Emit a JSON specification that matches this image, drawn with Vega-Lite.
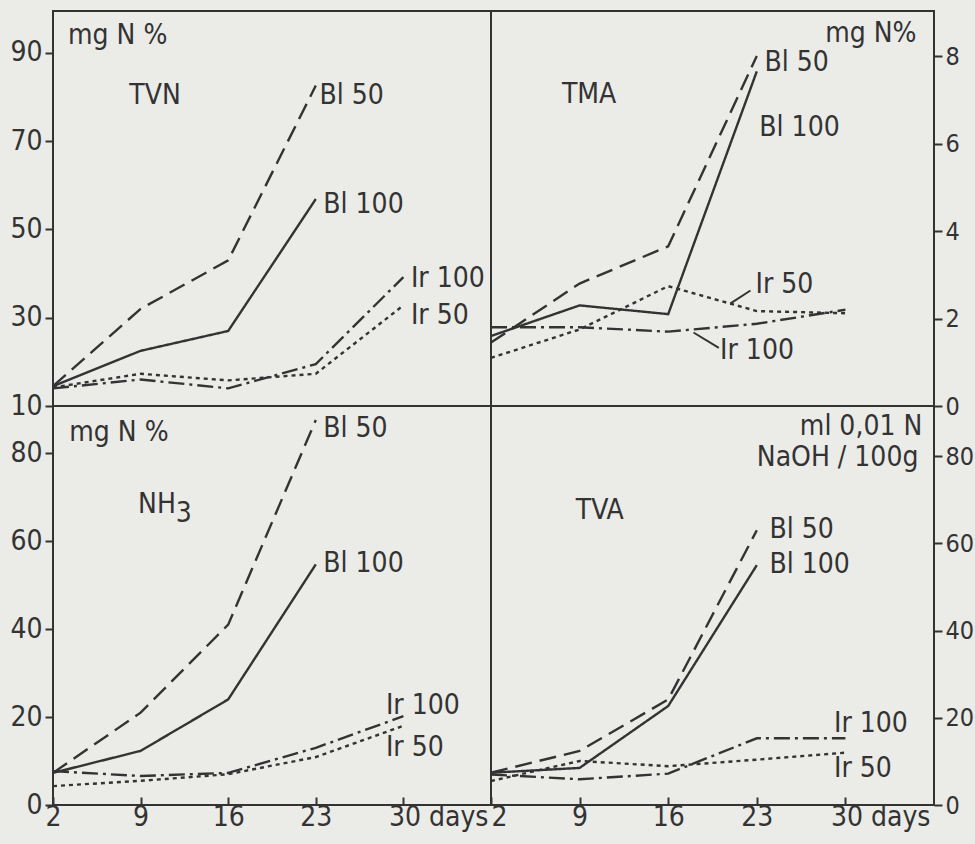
{
  "$schema": "https://vega.github.io/schema/vega-lite/v6.json",
  "background": "#ebebe8",
  "padding": {"left": 8, "top": 10, "right": 2, "bottom": 14},
  "config": {
    "font": "DejaVu Sans Condensed, Liberation Sans Narrow, DejaVu Sans, sans-serif",
    "view": {"stroke": "#333333", "strokeWidth": 2},
    "axis": {"grid": false, "domain": false, "tickColor": "#333333", "tickWidth": 2, "tickSize": 8, "labelFontSize": 25, "labelColor": "#333333", "labelPadding": 3, "title": null},
    "text": {"fontSize": 28, "color": "#333333", "align": "left", "baseline": "middle"}
  },
  "datasets": {
    "lines": [
      {"panel": "TVN", "series": "Bl 50", "day": 2, "value": 14.5},
      {"panel": "TVN", "series": "Bl 50", "day": 9, "value": 32},
      {"panel": "TVN", "series": "Bl 50", "day": 16, "value": 43},
      {"panel": "TVN", "series": "Bl 50", "day": 23, "value": 82.6},
      {"panel": "TVN", "series": "Bl 100", "day": 2, "value": 14.5},
      {"panel": "TVN", "series": "Bl 100", "day": 9, "value": 22.5},
      {"panel": "TVN", "series": "Bl 100", "day": 16, "value": 27},
      {"panel": "TVN", "series": "Bl 100", "day": 23, "value": 56.9},
      {"panel": "TVN", "series": "Ir 100", "day": 2, "value": 14},
      {"panel": "TVN", "series": "Ir 100", "day": 9, "value": 16},
      {"panel": "TVN", "series": "Ir 100", "day": 16, "value": 14},
      {"panel": "TVN", "series": "Ir 100", "day": 23, "value": 19.5},
      {"panel": "TVN", "series": "Ir 100", "day": 30, "value": 39.2},
      {"panel": "TVN", "series": "Ir 50", "day": 2, "value": 14.2},
      {"panel": "TVN", "series": "Ir 50", "day": 9, "value": 17.3},
      {"panel": "TVN", "series": "Ir 50", "day": 16, "value": 15.8},
      {"panel": "TVN", "series": "Ir 50", "day": 23, "value": 17.3},
      {"panel": "TVN", "series": "Ir 50", "day": 30, "value": 32.8},
      {"panel": "TMA", "series": "Bl 50", "day": 2, "value": 1.45},
      {"panel": "TMA", "series": "Bl 50", "day": 9, "value": 2.8},
      {"panel": "TMA", "series": "Bl 50", "day": 16, "value": 3.65},
      {"panel": "TMA", "series": "Bl 50", "day": 23, "value": 8.0},
      {"panel": "TMA", "series": "Bl 100", "day": 2, "value": 1.6},
      {"panel": "TMA", "series": "Bl 100", "day": 9, "value": 2.3},
      {"panel": "TMA", "series": "Bl 100", "day": 16, "value": 2.1},
      {"panel": "TMA", "series": "Bl 100", "day": 23, "value": 7.65},
      {"panel": "TMA", "series": "Ir 100", "day": 2, "value": 1.8},
      {"panel": "TMA", "series": "Ir 100", "day": 9, "value": 1.8},
      {"panel": "TMA", "series": "Ir 100", "day": 16, "value": 1.7},
      {"panel": "TMA", "series": "Ir 100", "day": 23, "value": 1.88},
      {"panel": "TMA", "series": "Ir 100", "day": 30, "value": 2.2},
      {"panel": "TMA", "series": "Ir 50", "day": 2, "value": 1.1},
      {"panel": "TMA", "series": "Ir 50", "day": 9, "value": 1.75},
      {"panel": "TMA", "series": "Ir 50", "day": 16, "value": 2.74},
      {"panel": "TMA", "series": "Ir 50", "day": 23, "value": 2.17},
      {"panel": "TMA", "series": "Ir 50", "day": 30, "value": 2.12},
      {"panel": "NH3", "series": "Bl 50", "day": 2, "value": 7.3},
      {"panel": "NH3", "series": "Bl 50", "day": 9, "value": 21},
      {"panel": "NH3", "series": "Bl 50", "day": 16, "value": 41},
      {"panel": "NH3", "series": "Bl 50", "day": 23, "value": 87.5},
      {"panel": "NH3", "series": "Bl 100", "day": 2, "value": 7.3},
      {"panel": "NH3", "series": "Bl 100", "day": 9, "value": 12.3},
      {"panel": "NH3", "series": "Bl 100", "day": 16, "value": 24},
      {"panel": "NH3", "series": "Bl 100", "day": 23, "value": 54.7},
      {"panel": "NH3", "series": "Ir 100", "day": 2, "value": 7.7},
      {"panel": "NH3", "series": "Ir 100", "day": 9, "value": 6.6},
      {"panel": "NH3", "series": "Ir 100", "day": 16, "value": 7.3},
      {"panel": "NH3", "series": "Ir 100", "day": 23, "value": 13},
      {"panel": "NH3", "series": "Ir 100", "day": 30, "value": 20.2},
      {"panel": "NH3", "series": "Ir 50", "day": 2, "value": 4.3},
      {"panel": "NH3", "series": "Ir 50", "day": 9, "value": 5.5},
      {"panel": "NH3", "series": "Ir 50", "day": 16, "value": 7},
      {"panel": "NH3", "series": "Ir 50", "day": 23, "value": 10.9},
      {"panel": "NH3", "series": "Ir 50", "day": 30, "value": 18},
      {"panel": "TVA", "series": "Bl 50", "day": 2, "value": 7.4},
      {"panel": "TVA", "series": "Bl 50", "day": 9, "value": 12.4},
      {"panel": "TVA", "series": "Bl 50", "day": 16, "value": 24.2},
      {"panel": "TVA", "series": "Bl 50", "day": 23, "value": 63},
      {"panel": "TVA", "series": "Bl 100", "day": 2, "value": 7.4},
      {"panel": "TVA", "series": "Bl 100", "day": 9, "value": 8.5},
      {"panel": "TVA", "series": "Bl 100", "day": 16, "value": 22.7},
      {"panel": "TVA", "series": "Bl 100", "day": 23, "value": 55},
      {"panel": "TVA", "series": "Ir 100", "day": 2, "value": 7},
      {"panel": "TVA", "series": "Ir 100", "day": 9, "value": 5.9},
      {"panel": "TVA", "series": "Ir 100", "day": 16, "value": 7.2},
      {"panel": "TVA", "series": "Ir 100", "day": 23, "value": 15.3},
      {"panel": "TVA", "series": "Ir 100", "day": 30, "value": 15.3},
      {"panel": "TVA", "series": "Ir 50", "day": 2, "value": 5.5},
      {"panel": "TVA", "series": "Ir 50", "day": 9, "value": 10.1},
      {"panel": "TVA", "series": "Ir 50", "day": 16, "value": 8.9},
      {"panel": "TVA", "series": "Ir 50", "day": 23, "value": 10.4},
      {"panel": "TVA", "series": "Ir 50", "day": 30, "value": 12}
    ],
    "labels": [
      {"panel": "TVN", "label": "mg N %", "day": 3.2, "value": 93.9},
      {"panel": "TVN", "label": "TVN", "day": 8.1, "value": 80.3},
      {"panel": "TVN", "label": "Bl 50", "day": 23.3, "value": 80.3},
      {"panel": "TVN", "label": "Bl 100", "day": 23.6, "value": 55.6},
      {"panel": "TVN", "label": "Ir 100", "day": 30.6, "value": 38.8},
      {"panel": "TVN", "label": "Ir 50", "day": 30.6, "value": 30.4},
      {"panel": "TMA", "label": "mg N%", "day": 28.4, "value": 8.5},
      {"panel": "TMA", "label": "TMA", "day": 7.6, "value": 7.1},
      {"panel": "TMA", "label": "Bl 50", "day": 23.6, "value": 7.85},
      {"panel": "TMA", "label": "Bl 100", "day": 23.2, "value": 6.35},
      {"panel": "TMA", "label": "Ir 50", "day": 22.9, "value": 2.76},
      {"panel": "TMA", "label": "Ir 100", "day": 20.1, "value": 1.26},
      {"panel": "NH3", "label": "mg N %", "day": 3.3, "value": 84.5},
      {"panel": "NH3", "label": "NH", "day": 8.8, "value": 68.3},
      {"panel": "NH3", "label": "3", "day": 11.8, "value": 66.2},
      {"panel": "NH3", "label": "Bl 50", "day": 23.6, "value": 85.5},
      {"panel": "NH3", "label": "Bl 100", "day": 23.6, "value": 54.8},
      {"panel": "NH3", "label": "Ir 100", "day": 28.6, "value": 22.5},
      {"panel": "NH3", "label": "Ir 50", "day": 28.6, "value": 13},
      {"panel": "TVA", "label": "ml 0,01 N", "day": 26.4, "value": 86.6},
      {"panel": "TVA", "label": "NaOH / 100g", "day": 23.0, "value": 79.6},
      {"panel": "TVA", "label": "TVA", "day": 8.7, "value": 67.5},
      {"panel": "TVA", "label": "Bl 50", "day": 24, "value": 63},
      {"panel": "TVA", "label": "Bl 100", "day": 24, "value": 55},
      {"panel": "TVA", "label": "Ir 100", "day": 29.1, "value": 18.6},
      {"panel": "TVA", "label": "Ir 50", "day": 29.1, "value": 8.2}
    ],
    "leaders": [
      {"panel": "TMA", "day": 20.9, "value": 2.34, "day2": 22.5, "value2": 2.64},
      {"panel": "TMA", "day": 18.0, "value": 1.68, "day2": 20.0, "value2": 1.33}
    ]
  },
  "columns": 2,
  "spacing": 0,
  "bounds": "flush",
  "resolve": {"scale": {"x": "independent", "y": "independent"}},
  "concat": [
    {
      "width": 438, "height": 395,
      "layer": [
        {
          "data": {"name": "lines"},
          "transform": [{"filter": "datum.panel == 'TVN'"}],
          "mark": {"type": "line", "strokeWidth": 2.4, "color": "#333333"},
          "encoding": {
            "x": {"field": "day", "type": "quantitative", "scale": {"domain": [2, 37], "nice": false, "zero": false}, "axis": null},
            "y": {"field": "value", "type": "quantitative", "scale": {"domain": [10, 99.5], "nice": false, "zero": false}, "axis": {"orient": "left", "values": [10, 30, 50, 70, 90], "labelFontSize": 28}},
            "strokeDash": {"field": "series", "type": "nominal", "scale": {"domain": ["Bl 50", "Bl 100", "Ir 100", "Ir 50"], "range": [[17, 8], [1, 0], [16, 5, 3, 5], [4, 4]]}, "legend": null}
          }
        },
        {
          "data": {"name": "labels"},
          "transform": [{"filter": "datum.panel == 'TVN'"}],
          "mark": {"type": "text"},
          "encoding": {
            "x": {"field": "day", "type": "quantitative"},
            "y": {"field": "value", "type": "quantitative"},
            "text": {"field": "label"}
          }
        }
      ]
    },
    {
      "width": 443, "height": 395,
      "layer": [
        {
          "data": {"name": "lines"},
          "transform": [{"filter": "datum.panel == 'TMA'"}],
          "mark": {"type": "line", "strokeWidth": 2.4, "color": "#333333"},
          "encoding": {
            "x": {"field": "day", "type": "quantitative", "scale": {"domain": [2, 37], "nice": false, "zero": false}, "axis": null},
            "y": {"field": "value", "type": "quantitative", "scale": {"domain": [0, 9.03], "nice": false, "zero": false}, "axis": {"orient": "right", "values": [0, 2, 4, 6, 8]}},
            "strokeDash": {"field": "series", "type": "nominal", "scale": {"domain": ["Bl 50", "Bl 100", "Ir 100", "Ir 50"], "range": [[17, 8], [1, 0], [16, 5, 3, 5], [4, 4]]}, "legend": null}
          }
        },
        {
          "data": {"name": "leaders"},
          "transform": [{"filter": "datum.panel == 'TMA'"}],
          "mark": {"type": "rule", "strokeWidth": 2, "color": "#333333"},
          "encoding": {
            "x": {"field": "day", "type": "quantitative"},
            "y": {"field": "value", "type": "quantitative"},
            "x2": {"field": "day2"},
            "y2": {"field": "value2"}
          }
        },
        {
          "data": {"name": "labels"},
          "transform": [{"filter": "datum.panel == 'TMA'"}],
          "mark": {"type": "text"},
          "encoding": {
            "x": {"field": "day", "type": "quantitative"},
            "y": {"field": "value", "type": "quantitative"},
            "text": {"field": "label"}
          }
        }
      ]
    },
    {
      "width": 438, "height": 399,
      "layer": [
        {
          "data": {"name": "lines"},
          "transform": [{"filter": "datum.panel == 'NH3'"}],
          "mark": {"type": "line", "strokeWidth": 2.4, "color": "#333333"},
          "encoding": {
            "x": {"field": "day", "type": "quantitative", "scale": {"domain": [2, 37], "nice": false, "zero": false}, "axis": {"orient": "bottom", "values": [2, 9, 16, 23, 30], "tickSize": -8, "labelPadding": 6, "labelFontSize": 28, "labelExpr": "datum.value == 30 ? '30 days' : datum.label", "labelAlign": {"condition": {"test": "datum.value == 30", "value": "left"}, "value": "center"}, "labelOffset": {"condition": {"test": "datum.value == 30", "value": -15}, "value": 0}}},
            "y": {"field": "value", "type": "quantitative", "scale": {"domain": [0, 90.7], "nice": false, "zero": false}, "axis": {"orient": "left", "values": [0, 20, 40, 60, 80], "labelFontSize": 28}},
            "strokeDash": {"field": "series", "type": "nominal", "scale": {"domain": ["Bl 50", "Bl 100", "Ir 100", "Ir 50"], "range": [[17, 8], [1, 0], [16, 5, 3, 5], [4, 4]]}, "legend": null}
          }
        },
        {
          "data": {"name": "labels"},
          "transform": [{"filter": "datum.panel == 'NH3'"}],
          "mark": {"type": "text"},
          "encoding": {
            "x": {"field": "day", "type": "quantitative"},
            "y": {"field": "value", "type": "quantitative"},
            "text": {"field": "label"}
          }
        }
      ]
    },
    {
      "width": 443, "height": 399,
      "layer": [
        {
          "data": {"name": "lines"},
          "transform": [{"filter": "datum.panel == 'TVA'"}],
          "mark": {"type": "line", "strokeWidth": 2.4, "color": "#333333"},
          "encoding": {
            "x": {"field": "day", "type": "quantitative", "scale": {"domain": [2, 37], "nice": false, "zero": false}, "axis": {"orient": "bottom", "values": [2, 9, 16, 23, 30], "tickSize": -8, "labelPadding": 6, "labelFontSize": 28, "labelExpr": "datum.value == 30 ? '30 days' : datum.value == 2 ? '\u00a02' : datum.label", "labelAlign": {"condition": {"test": "datum.value == 30 || datum.value == 2", "value": "left"}, "value": "center"}, "labelOffset": {"condition": {"test": "datum.value == 30", "value": -15}, "value": 0}}},
            "y": {"field": "value", "type": "quantitative", "scale": {"domain": [0, 91.5], "nice": false, "zero": false}, "axis": {"orient": "right", "values": [0, 20, 40, 60, 80]}},
            "strokeDash": {"field": "series", "type": "nominal", "scale": {"domain": ["Bl 50", "Bl 100", "Ir 100", "Ir 50"], "range": [[17, 8], [1, 0], [16, 5, 3, 5], [4, 4]]}, "legend": null}
          }
        },
        {
          "data": {"name": "labels"},
          "transform": [{"filter": "datum.panel == 'TVA'"}],
          "mark": {"type": "text"},
          "encoding": {
            "x": {"field": "day", "type": "quantitative"},
            "y": {"field": "value", "type": "quantitative"},
            "text": {"field": "label"}
          }
        }
      ]
    }
  ]
}
